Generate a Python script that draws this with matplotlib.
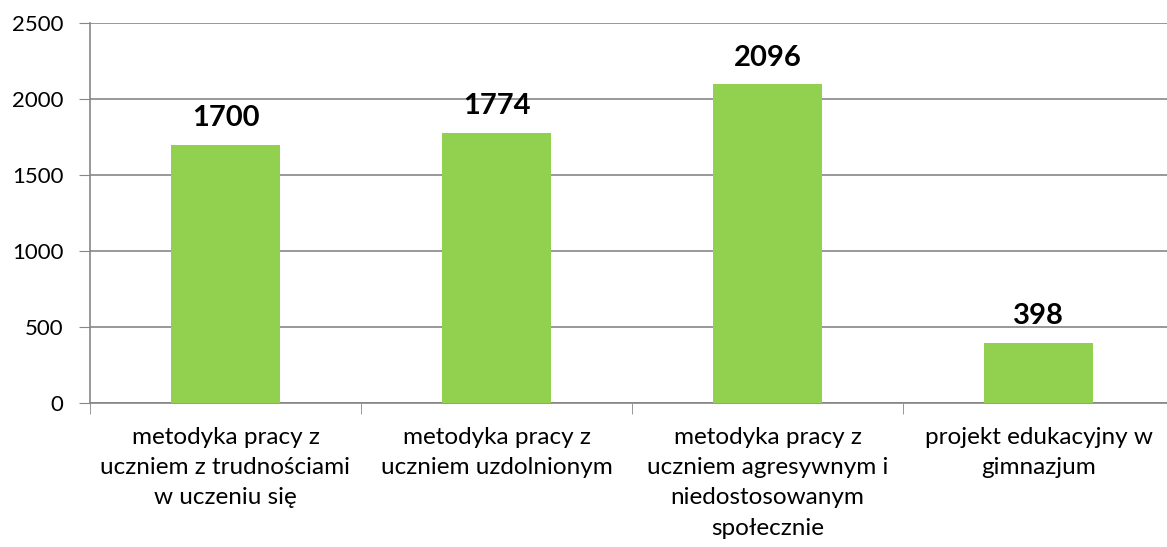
import matplotlib.pyplot as plt
import numpy as np

kategorie = [
    "metodyka pracy z\nuczniem z trudnościami\nw uczeniu się",
    "metodyka pracy z\nuczniem uzdolnionym",
    "metodyka pracy z\nuczniem agresywnym i\nniedostosowanym\nspołecznie",
    "projekt edukacyjny w\ngimnazjum",
]
hodnoty = [1700, 1774, 2096, 398]
y_ticks = [0, 500, 1000, 1500, 2000, 2500]

plt.rcParams['font.family'] = ['Lato', 'DejaVu Sans']

fig = plt.figure(figsize=(11.67, 5.47), dpi=100)
W, H = 1167, 547
# plocha grafu presahuje vpravo mimo obrazok
ax = fig.add_axes([90 / W, 1 - 403 / H, (1174 - 90) / W, (403 - 23) / H])

x = np.arange(len(kategorie))
ax.bar(x, hodnoty, width=0.4, color="#92D050", zorder=3)

for xi, v in zip(x, hodnoty):
    ax.annotate(str(v), (xi, v), xytext=(0, 10), textcoords="offset points",
                ha="center", va="bottom", fontsize=21, fontweight="bold")

ax.set_xlim(-0.5, len(kategorie) - 0.5)
ax.set_ylim(0, 2500)
ax.set_yticks(y_ticks)
ax.tick_params(axis="y", labelsize=16, length=8, color="#868686", pad=11)
ax.grid(True, axis="y", color="#868686", linewidth=1.2, zorder=0)

ax.set_xticks(x)
ax.set_xticklabels(kategorie, fontsize=17.5, linespacing=1.55)
ax.tick_params(axis="x", which="major", length=0, pad=17)
ax.set_xticks(np.arange(len(kategorie) + 1) - 0.5, minor=True)
ax.tick_params(axis="x", which="minor", length=8, color="#868686")

for s in ["top", "right"]:
    ax.spines[s].set_visible(False)
for s in ["left", "bottom"]:
    ax.spines[s].set_color("#868686")
    ax.spines[s].set_linewidth(1.2)

fig.savefig("out.png", dpi=100)
